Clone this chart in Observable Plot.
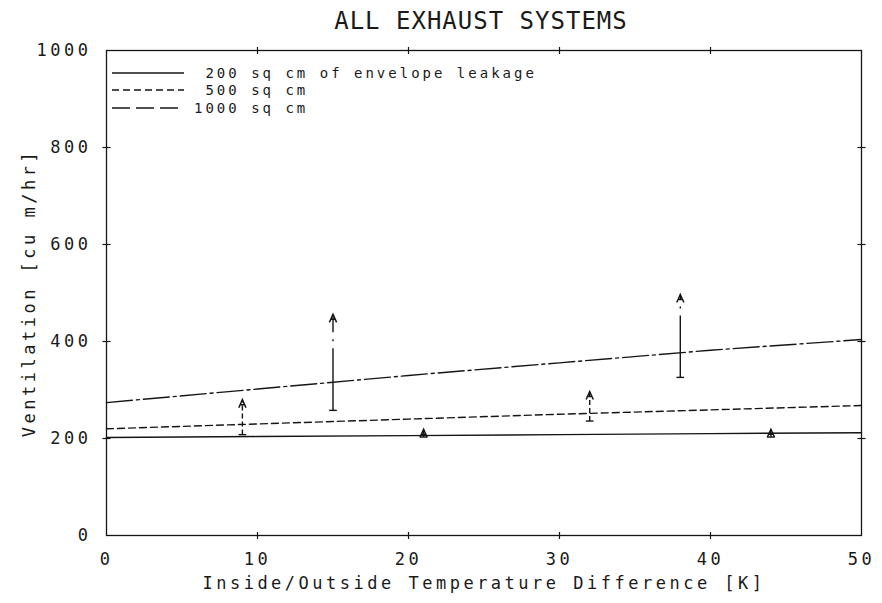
<!DOCTYPE html>
<html>
<head>
<meta charset="utf-8">
<script src="https://cdn.jsdelivr.net/npm/d3@7"></script>
<script src="https://cdn.jsdelivr.net/npm/@observablehq/plot@0.6"></script>
<style>
  html, body { margin: 0; padding: 0; background: #fff; }
  #wrap { position: relative; width: 882px; height: 603px; background: #fff; color: #1a1a1a; }
  #title { box-sizing: border-box; width: 882px; height: 36px; padding-left: 80px; padding-top: 6px;
           line-height: 30px; text-align: center; font-family: 'DejaVu Sans Mono', monospace;
           font-size: 24px; letter-spacing: 1px; color: #1a1a1a; }
  #legend { position: absolute; left: 112px; top: 64px; font-family: 'DejaVu Sans Mono', monospace;
            font-size: 14px; letter-spacing: 3px; color: #1a1a1a; }
  #legend .row { display: flex; align-items: center; height: 17.5px; white-space: pre; }
  #legend svg { width: 72px; height: 10px; margin-right: 10px; }
</style>
</head>
<body>
<div id="wrap">
  <div id="title">ALL EXHAUST SYSTEMS</div>
  <div id="chart"></div>
  <div id="legend"></div>
</div>
<script>
// ---- data ----
const chartTitle = "ALL EXHAUST SYSTEMS";
const xLabel = "Inside/Outside Temperature Difference [K]";
const yLabel = "Ventilation [cu m/hr]";
const xTicks = [0, 10, 20, 30, 40, 50];
const yTicks = [0, 200, 400, 600, 800, 1000];

const temps = [0, 10, 20, 30, 40, 50];
const vent200 = [202, 204, 206, 208, 210, 212];
const vent500 = [220, 230, 240, 250, 259, 268];
const vent1000 = [274, 302, 330, 356, 382, 404];

const seriesNames = ["200", "500", "1000"];
const legendLabels = [" 200 sq cm of envelope leakage", " 500 sq cm", "1000 sq cm"];

// measured ranges drawn as upward arrows
const arrowT = [9, 15, 21, 32, 38, 44];
const arrowLow = [208, 258, 203, 236, 326, 203];
const arrowHigh = [280, 456, 219, 297, 497, 219];
const arrowSeries = ["500", "1000", "200", "500", "1000", "200"];

// ---- styles ----
const ink = "#151515";
const lineDash = {"200": null, "500": "7,4", "1000": "26,4,3,4"};
const shaftDash = {"200": null, "500": "5,3", "1000": "62,7,2,7"};
const seriesValues = {"200": vent200, "500": vent500, "1000": vent1000};

// custom symbols
const hline = {draw(ctx, size) { const r = Math.sqrt(size / Math.PI); ctx.moveTo(-r, 0); ctx.lineTo(r, 0); }};
const vline = {draw(ctx, size) { const r = Math.sqrt(size / Math.PI); ctx.moveTo(0, -r); ctx.lineTo(0, r); }};
const arrowHead = {draw(ctx, size) {
  const r = Math.sqrt(size / Math.PI);
  ctx.moveTo(-0.9 * r, 2 * r); ctx.lineTo(0, 0); ctx.lineTo(0.9 * r, 2 * r);
  ctx.moveTo(-0.55 * r, 1.25 * r); ctx.lineTo(0.55 * r, 1.25 * r);
}};

const arrowRows = arrowT.map((t, i) => ({t, low: arrowLow[i], high: arrowHigh[i], s: arrowSeries[i]}));
const xInner = xTicks.slice(1, -1);
const yInner = yTicks.slice(1, -1);
const xDom = [xTicks[0], xTicks[xTicks.length - 1]];
const yDom = [yTicks[0], yTicks[yTicks.length - 1]];

const marks = [
  Plot.frame({stroke: ink, strokeWidth: 1.3}),
  Plot.axisX({ticks: xTicks, tickSize: 0, tickPadding: 17, tickFormat: "d",
    label: xLabel, labelAnchor: "center", labelArrow: "none", labelOffset: 53}),
  Plot.axisY({ticks: yTicks, tickSize: 0, tickPadding: 15, tickFormat: "d",
    label: yLabel, labelAnchor: "center", labelArrow: "none", labelOffset: 84}),
  // crossing tick marks on all four sides
  Plot.dot(yInner, {x: () => xDom[0], y: d => d, symbol: hline, r: 4, stroke: ink, strokeWidth: 1.2}),
  Plot.dot(yInner, {x: () => xDom[1], y: d => d, symbol: hline, r: 4, stroke: ink, strokeWidth: 1.2}),
  Plot.dot(xInner, {x: d => d, y: () => yDom[0], symbol: vline, r: 3.5, stroke: ink, strokeWidth: 1.2}),
  Plot.dot(xInner, {x: d => d, y: () => yDom[1], symbol: vline, r: 3.5, stroke: ink, strokeWidth: 1.2}),
];

for (const s of seriesNames) {
  marks.push(Plot.line(temps, {x: temps, y: seriesValues[s], stroke: ink, strokeWidth: 1.4,
    strokeDasharray: lineDash[s] || undefined}));
}
for (const s of seriesNames) {
  const rows = arrowRows.filter(d => d.s === s);
  marks.push(Plot.link(rows, {x1: "t", x2: "t", y1: "low", y2: "high", stroke: ink, strokeWidth: 1.4,
    strokeDasharray: shaftDash[s] || undefined}));
}
marks.push(Plot.dot(arrowRows, {x: "t", y: "low", symbol: hline, r: 3.8, stroke: ink, strokeWidth: 1.4}));
marks.push(Plot.dot(arrowRows, {x: "t", y: "high", symbol: arrowHead, r: 4, stroke: ink, strokeWidth: 1.5, fill: "none"}));

const chart = Plot.plot({
  width: 882, height: 567,
  marginLeft: 106, marginRight: 21, marginTop: 14, marginBottom: 68,
  style: {fontFamily: "'DejaVu Sans Mono', monospace", fontSize: "17px", letterSpacing: "3.5px",
          color: "#1a1a1a", background: "white"},
  x: {domain: xDom},
  y: {domain: yDom},
  marks
});
document.getElementById("chart").appendChild(chart);
document.getElementById("title").textContent = chartTitle;

// legend
const legend = document.getElementById("legend");
seriesNames.forEach((s, i) => {
  const row = document.createElement("div");
  row.className = "row";
  const dash = s === "1000" ? "18,6" : (lineDash[s] || "");
  row.innerHTML = `<svg viewBox="0 0 72 10"><line x1="0" x2="72" y1="5" y2="5" stroke="${ink}" stroke-width="1.3" ${dash ? `stroke-dasharray="${dash}"` : ""}/></svg>`;
  const span = document.createElement("span");
  span.textContent = legendLabels[i];
  row.appendChild(span);
  legend.appendChild(row);
});
</script>
</body>
</html>
